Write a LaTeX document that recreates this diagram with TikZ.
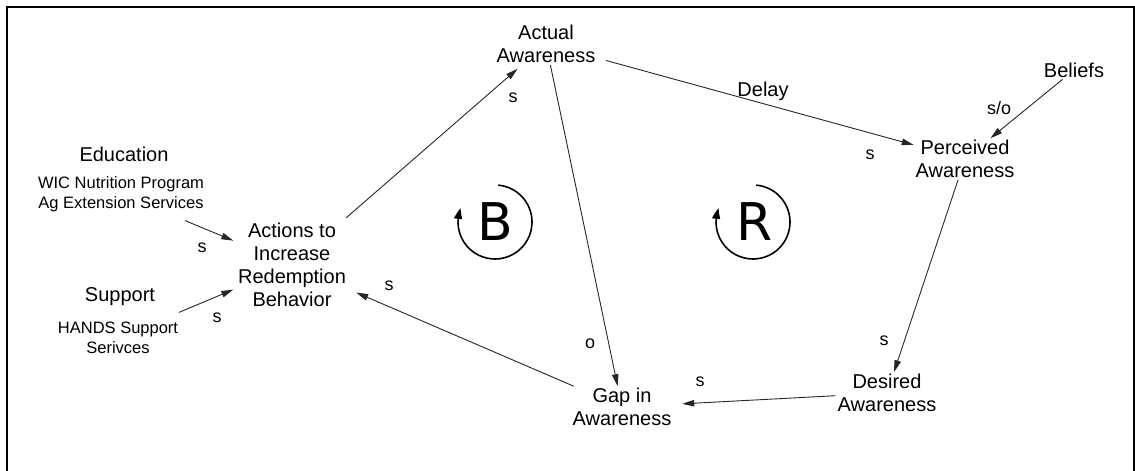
\documentclass[tikz,border=0pt]{standalone}
\usepackage{fontspec}
\setmainfont{Liberation Sans}
\newfontfamily\loopfont{DejaVu Sans}
\usetikzlibrary{arrows.meta, bending}

\begin{document}
\begin{tikzpicture}[x=1pt, y=-1pt,
  var/.style={align=center, inner sep=2pt, outer sep=0pt, font=\fontsize{20}{23}\selectfont},
  note/.style={align=center, inner sep=2pt, outer sep=0pt, font=\fontsize{16.5}{20}\selectfont},
  pol/.style={inner sep=0pt, font=\fontsize{18}{20}\selectfont},
  link/.style={draw=black!85, line width=0.9pt, -{Triangle[length=12pt, width=6.5pt]}},
  loopsym/.style={font=\loopfont\fontsize{52}{52}\selectfont, inner sep=0pt},
  looparc/.style={line width=1.6pt, -{Triangle[length=11pt, width=8pt, bend]}}
]
  \useasboundingbox (0,0) rectangle (1135,471);
  % frame
  \draw[line width=2pt] (6.5,471) -- (6.5,6.5) -- (1133.5,6.5) -- (1133.5,471);

  % variables
  \node[var] (actual) at (546,44) {Actual\\Awareness};
  \node[var] (perceived) at (965,159) {Perceived\\Awareness};
  \node[var] (beliefs) at (1074,70) {Beliefs};
  \node[var] (desired) at (887,393) {Desired\\Awareness};
  \node[var] (gap) at (622,407) {Gap in\\Awareness};
  \node[var] (actions) at (292,265) {Actions to\\Increase\\Redemption\\Behavior};
  \node[var] (education) at (124,154) {Education};
  \node[note] (eduserv) at (121,194) {WIC Nutrition Program\\Ag Extension Services};
  \node[var] (support) at (120,297) {Support};
  \node[note] (suppserv) at (118,338) {HANDS Support\\Serivces};

  % links
  \draw[link, shorten <=18pt, shorten >=3pt] (eduserv) -- (actions);
  \draw[link, shorten <=20pt, shorten >=3pt] (suppserv) -- (actions);
  \draw[link, shorten <=5pt, shorten >=6pt] (actions) -- (actual);
  \draw[link] (actual) -- (gap);
  \draw[link, shorten <=9pt] (actual) -- (perceived);
  \draw[link] (beliefs) -- (perceived);
  \draw[link] (perceived) -- (desired);
  \draw[link, shorten >=9pt] (desired) -- (gap);
  \draw[link, shorten >=9pt] (gap) -- (actions);

  % polarities
  \node[pol] (pedu) at (202,248) {s};
  \node[pol] (psupp) at (217,318) {s};
  \node[pol] (pactual) at (513,98) {s};
  \node[pol] (pgapin) at (590,344) {o};
  \node[pol, font=\fontsize{20}{23}\selectfont] (pdelay) at (763,91) {Delay};
  \node[pol] (pperc) at (870,155) {s};
  \node[pol] (pbel) at (999,108) {s/o};
  \node[pol] (pdes) at (884,341) {s};
  \node[pol] (pgap) at (700,382) {s};
  \node[pol] (pact) at (389,286) {s};

  % loop markers
  \coordinate (bloop) at (495,222);
  \coordinate (rloop) at (753,222);
  \node[loopsym] (bsym) at (bloop) {B};
  \node[loopsym] (rsym) at ([xshift=2pt]rloop) {R};
  \draw[looparc] ([shift={(-85:37)}]bloop) arc[start angle=-85, end angle=202, radius=37];
  \draw[looparc] ([shift={(-85:37)}]rloop) arc[start angle=-85, end angle=202, radius=37];
\end{tikzpicture}
\end{document}
